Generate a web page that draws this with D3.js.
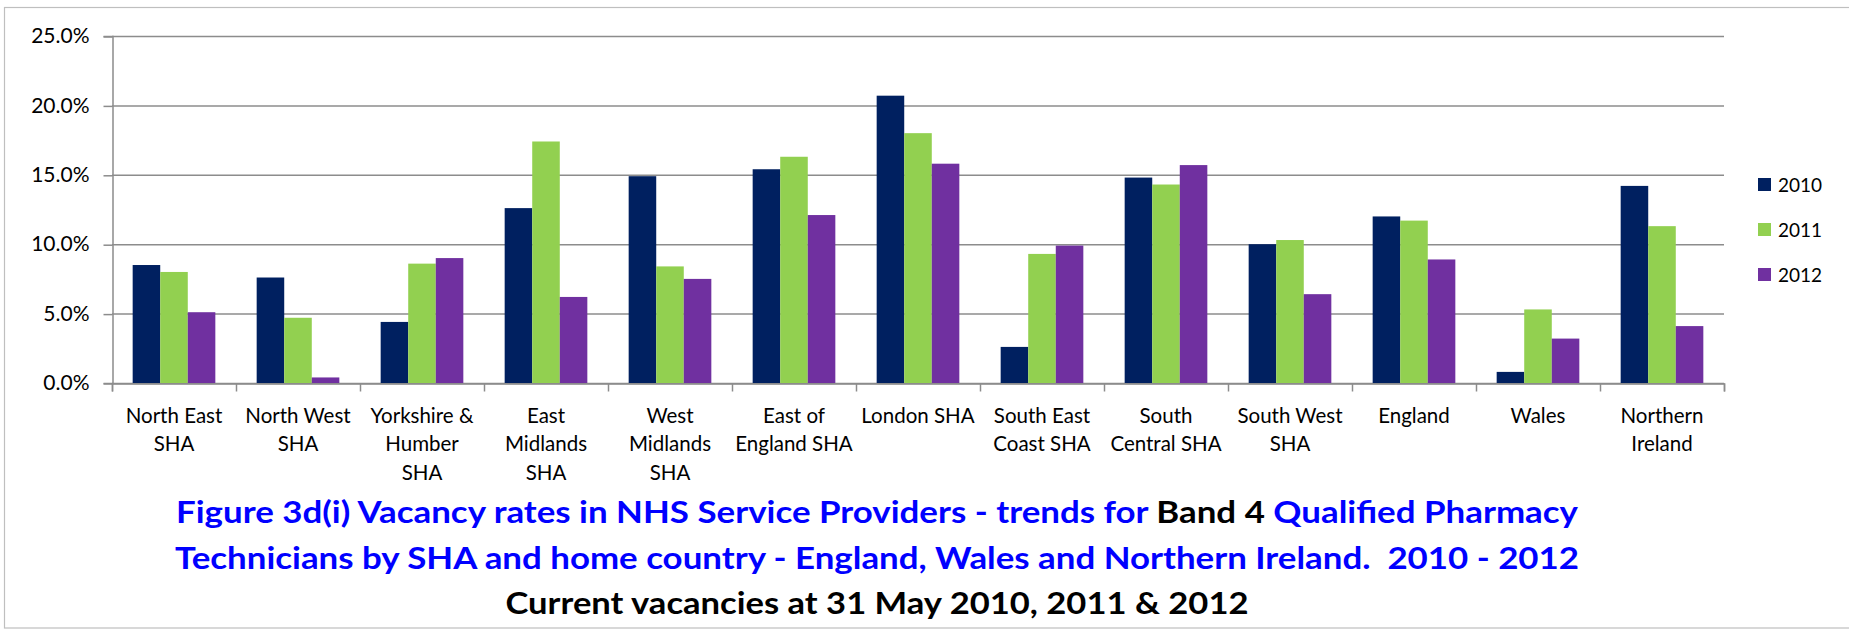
<!DOCTYPE html>
<html>
<head>
<meta charset="utf-8">
<script src="https://cdn.jsdelivr.net/npm/d3@7"></script>
<style>
  html, body { margin: 0; padding: 0; background: #ffffff; }
  svg { display: block; }
</style>
</head>
<body>
<svg id="chart" width="1849" height="630"></svg>
<script>
// Categories (line breaks mark where each axis label wraps)
const categories = [
  "North East\nSHA", "North West\nSHA", "Yorkshire &\nHumber\nSHA", "East\nMidlands\nSHA",
  "West\nMidlands\nSHA", "East of\nEngland SHA", "London SHA", "South East\nCoast SHA",
  "South\nCentral SHA", "South West\nSHA", "England", "Wales", "Northern\nIreland"
];
const seriesNames = ["2010", "2011", "2012"];
// Vacancy rates, percent
const values2010 = [8.5, 7.6, 4.4, 12.6, 14.9, 15.4, 20.7, 2.6, 14.8, 10.0, 12.0, 0.8, 14.2];
const values2011 = [8.0, 4.7, 8.6, 17.4, 8.4, 16.3, 18.0, 9.3, 14.3, 10.3, 11.7, 5.3, 11.3];
const values2012 = [5.1, 0.4, 9.0, 6.2, 7.5, 12.1, 15.8, 9.9, 15.7, 6.4, 8.9, 3.2, 4.1];
const seriesColors = ["#002060", "#92d050", "#7030a0"];
const yTicks = [0, 5, 10, 15, 20, 25];

const titleLines = [
  [["Figure 3d(i) Vacancy rates in NHS Service Providers - trends for ", "#0000ff"], ["Band 4", "#000000"], [" Qualified Pharmacy", "#0000ff"]],
  [["Technicians by SHA and home country - England, Wales and Northern Ireland.  2010 - 2012", "#0000ff"]],
  [["Current vacancies at 31 May 2010, 2011 & 2012", "#000000"]]
];

const seriesValues = [values2010, values2011, values2012];
const rows = categories.map((c, i) => ({
  cat: c,
  vals: seriesNames.map((s, k) => ({ key: s, value: seriesValues[k][i] }))
}));

const svg = d3.select("#chart");
const FONT = "Lato, 'Open Sans', 'Liberation Sans', sans-serif";

// frame of the chart area
svg.append("rect")
  .attr("x", 4.5).attr("y", 7.5)
  .attr("width", 1900).attr("height", 620.5)
  .attr("fill", "none").attr("stroke", "#bfbfbf").attr("stroke-width", 1.2);

const plot = { left: 112, right: 1724, top: 36, bottom: 383 };

const x0 = d3.scaleBand().domain(categories).range([plot.left, plot.right]).paddingInner(0).paddingOuter(0);
const x1 = d3.scaleBand().domain(seriesNames).range([0, x0.bandwidth()]).paddingInner(0).paddingOuter(0.75);
const y = d3.scaleLinear().domain([0, 25]).range([plot.bottom, plot.top]);
const color = d3.scaleOrdinal().domain(seriesNames).range(seriesColors);

// horizontal gridlines
svg.append("g")
  .selectAll("line")
  .data(yTicks)
  .join("line")
  .attr("x1", plot.left).attr("x2", plot.right)
  .attr("y1", d => y(d) + 0.5).attr("y2", d => y(d) + 0.5)
  .attr("stroke", "#8c8c8c").attr("stroke-width", 1.5);

// y axis
const yAxis = svg.append("g")
  .attr("transform", `translate(${plot.left + 0.5},0)`)
  .call(d3.axisLeft(y).tickValues(yTicks).tickSize(9).tickPadding(14).tickFormat(d => d.toFixed(1) + "%"));
yAxis.select(".domain").attr("stroke", "#8c8c8c").attr("stroke-width", 1.5);
yAxis.selectAll(".tick line").attr("stroke", "#8c8c8c").attr("stroke-width", 1.5).attr("transform", "translate(0,0.5)");
yAxis.selectAll(".tick text").attr("font-family", FONT).attr("font-size", 21).attr("fill", "#000");

// bars
svg.append("g")
  .selectAll("g")
  .data(rows)
  .join("g")
  .attr("transform", d => `translate(${x0(d.cat)},0)`)
  .selectAll("rect")
  .data(d => d.vals)
  .join("rect")
  .attr("x", d => x1(d.key))
  .attr("width", x1.bandwidth())
  .attr("y", d => y(d.value))
  .attr("height", d => y(0) - y(d.value))
  .attr("fill", d => color(d.key));

// x axis with tick marks at category boundaries
const xIdx = d3.scaleLinear().domain([0, categories.length]).range([plot.left, plot.right]);
const xAxis = svg.append("g")
  .attr("transform", `translate(0,${plot.bottom + 0.5})`)
  .call(d3.axisBottom(xIdx).tickValues(d3.range(categories.length + 1)).tickSize(8).tickFormat(""));
xAxis.select(".domain").attr("stroke", "#8c8c8c").attr("stroke-width", 1.5);
xAxis.selectAll(".tick line").attr("stroke", "#8c8c8c").attr("stroke-width", 1.5);

// category labels
const labels = svg.append("g")
  .selectAll("text")
  .data(categories)
  .join("text")
  .attr("text-anchor", "middle")
  .attr("font-family", FONT).attr("font-size", 20.5).attr("fill", "#000")
  .attr("x", d => x0(d) + x0.bandwidth() / 2)
  .attr("y", 423);
labels.selectAll("tspan")
  .data(d => d.split("\n").map(t => ({ t, x: x0(d) + x0.bandwidth() / 2 })))
  .join("tspan")
  .attr("x", d => d.x)
  .attr("dy", (d, i) => i === 0 ? 0 : 28.3)
  .text(d => d.t);

// legend
const legend = svg.append("g")
  .selectAll("g")
  .data(seriesNames)
  .join("g")
  .attr("transform", (d, i) => `translate(1758,${185 + i * 45})`);
legend.append("rect")
  .attr("x", 0).attr("y", -7).attr("width", 13).attr("height", 13)
  .attr("fill", d => color(d));
legend.append("text")
  .attr("x", 20).attr("y", 0).attr("dy", "0.35em")
  .attr("font-family", FONT).attr("font-size", 19).attr("fill", "#000")
  .text(d => d);

// title block
const titleWidths = [1402, 1404, 743];
const titleBaselines = [523, 569, 614];
const titleCenter = 877;
titleLines.forEach((runs, i) => {
  const t = svg.append("text")
    .attr("x", titleCenter).attr("y", titleBaselines[i])
    .attr("text-anchor", "middle")
    .attr("font-family", FONT).attr("font-weight", "bold").attr("font-size", 30.5)
    .attr("textLength", titleWidths[i]).attr("lengthAdjust", "spacingAndGlyphs")
    .attr("xml:space", "preserve");
  t.selectAll("tspan")
    .data(runs)
    .join("tspan")
    .attr("fill", d => d[1])
    .text(d => d[0]);
});
</script>
</body>
</html>
